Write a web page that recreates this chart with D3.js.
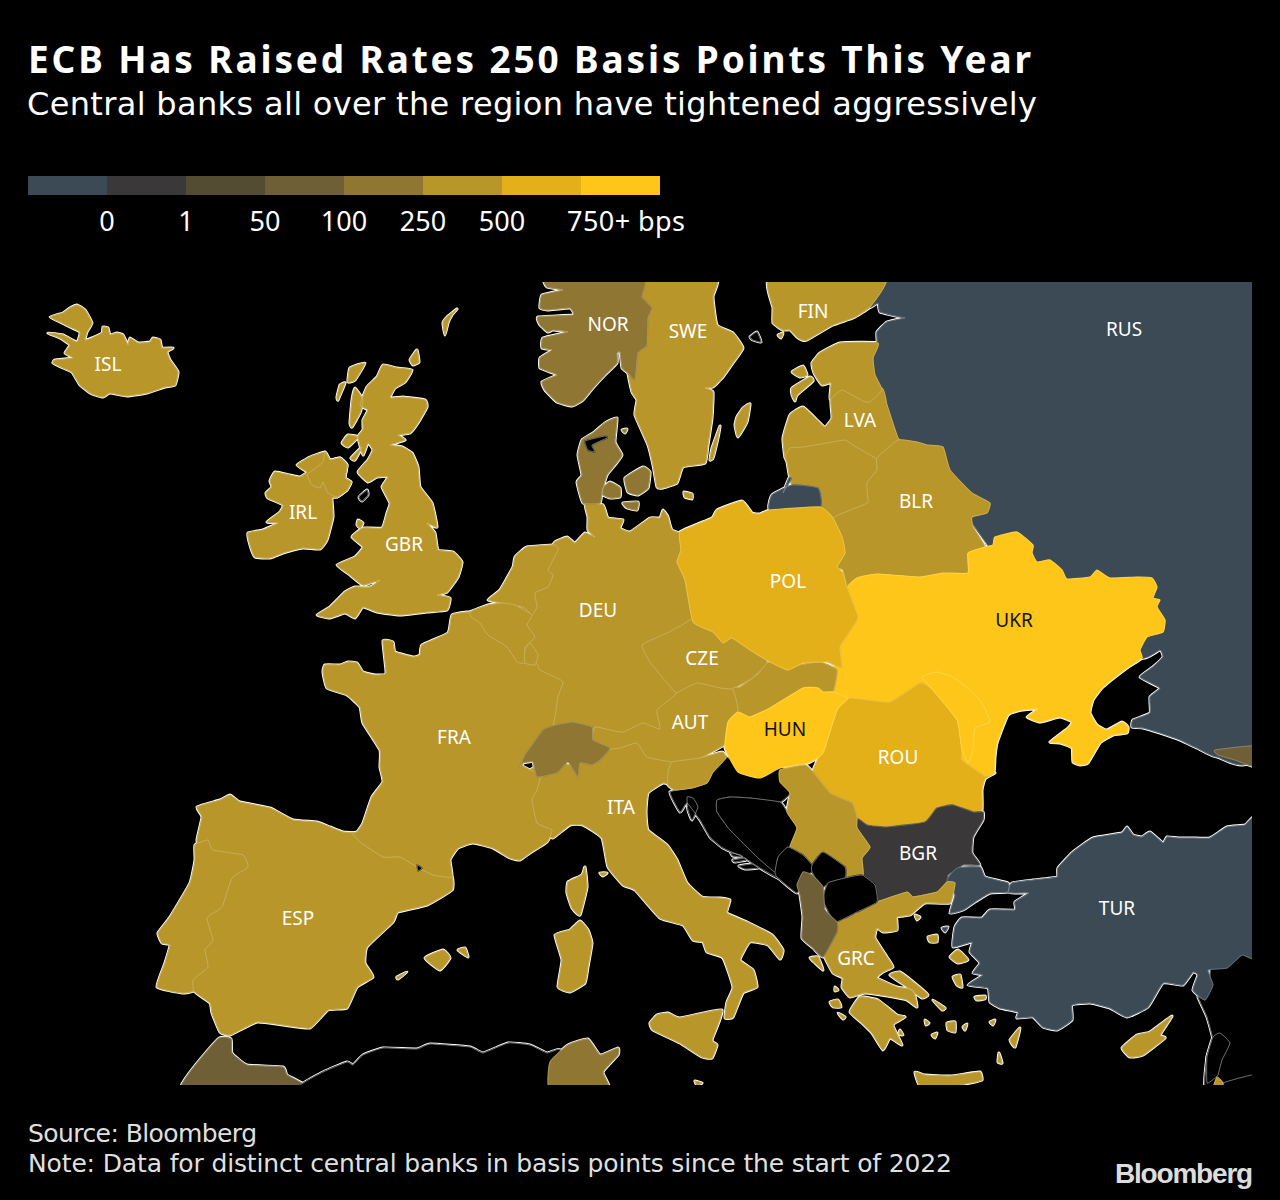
<!DOCTYPE html>
<html>
<head>
<meta charset="utf-8">
<style>
  html, body { margin: 0; background: #000; }
  text { font-family: "Noto Sans", sans-serif; fill: #fff; }
</style>
<script src="https://cdn.jsdelivr.net/npm/d3@7"></script>
</head>
<body>
<svg id="chart" width="1280" height="1200"></svg>
<script>
/* Legend */
const legendColors = ["#3b4a54", "#3a3838", "#544b33", "#6f5f36", "#8f7733", "#b8962a", "#e3b01a", "#ffc61a"];
const legendThresholds = [0, 1, 50, 100, 250, 500, 750];
const legendLabels = ["0", "1", "50", "100", "250", "500", "750+ bps"];

/* Rate change per central bank, in basis points. null = no data, drawn black. Order = paint order */
const countryCodes = ["RUS","GEO","MAR","DZA","TUN","SYR","LBN","EGY","JOR","ISL","IRL","NIR","GBR","IMN","SWE","NOR","FIN","ALA","LVA","EST","LTU","KGD","BLR","ITA","DEU","CZE","UKR","ROU","SVK","HRV","AUT","HUN","MDA","POL","ESP","PRT","FRA","AND","NLD","BEL","LUX","CHE","DNK","LIM","SVN","BGR","TUR","GRC","BIH","SRB","MNE","KOS","MKD","ALB","CYP"];
const bpsChange = [-100,75,50,null,100,null,null,null,250,450,250,300,300,null,250,225,250,null,250,250,250,-100,300,250,250,300,1500,525,250,null,250,1060,1650,625,250,250,250,null,250,250,250,175,215,null,250,0,-500,250,null,300,null,null,null,75,250];

/* Outlines, in map units */
const outlineRUS = [[[883,278],[1256,278],[1256,748],[1217,757],[1197,748],[1180,740],[1160,733],[1143,728],[1132,727],[1133,720],[1150,713],[1150,697],[1160,688],[1140,677],[1153,667],[1163,657],[1160,650],[1142,658],[1100,620],[1000,560],[940,480],[870,460],[870,350],[877,342],[877,332],[887,322],[905,318],[900,317],[880,312],[878,303],[870,307]]];
const outlineGEO = [[[1215,750],[1256,746],[1256,767],[1235,760],[1218,755]]];
const outlineMAR = [[[181,1090],[218,1039],[231,1039],[232,1053],[247,1065],[283,1067],[287,1075],[309,1090]]];
const outlineDZA = [[[305,1090],[305,1082],[323,1072],[347,1062],[353,1065],[363,1055],[383,1048],[417,1049],[430,1044],[470,1047],[483,1053],[508,1043],[530,1045],[547,1053],[560,1050],[555,1090]]];
const outlineTUN = [[[550,1090],[550,1062],[568,1045],[588,1039],[600,1055],[618,1048],[618,1055],[603,1072],[609,1090]]];
const outlineSYR = [[[1198,997],[1205,1000],[1210,990],[1212,965],[1256,950],[1258,1092],[1206,1092],[1207,1057],[1213,1040],[1207,1017]]];
const outlineLBN = [[[1213,1037],[1220,1033],[1230,1043],[1222,1060],[1218,1075],[1215,1078],[1207,1083],[1207,1057]]];
const outlineEGY = [[[1258,1074],[1223,1083],[1223,1094],[1258,1094]]];
const outlineJOR = [[[1212,1092],[1217,1077],[1223,1083],[1222,1092]]];
const outlineISL = [[[50,317],[63,313],[70,308],[77,305],[85,310],[92,323],[87,332],[85,340],[92,338],[102,333],[103,327],[108,328],[110,335],[117,333],[123,335],[128,345],[130,338],[138,343],[150,342],[153,338],[160,340],[162,348],[173,348],[167,352],[170,360],[178,372],[175,385],[165,387],[147,393],[127,396],[110,393],[103,397],[92,394],[80,385],[72,372],[63,368],[53,363],[55,360],[73,358],[65,353],[70,345],[60,338],[48,333],[63,335],[77,342],[80,332],[70,327],[62,323]]];
const outlineIRL = [[[325,452],[330,460],[340,458],[347,465],[345,478],[351,482],[347,490],[337,497],[332,498],[333,517],[327,540],[320,549],[303,548],[283,553],[270,558],[255,557],[250,545],[248,533],[263,530],[278,523],[267,522],[280,512],[283,505],[268,498],[266,493],[272,487],[270,481],[275,472],[290,475],[300,477],[307,472],[297,465],[310,457]]];
const outlineNIR = [[[325,452],[330,460],[340,458],[347,465],[345,478],[351,482],[347,490],[337,497],[328,493],[323,482],[320,488],[312,485],[307,475],[313,470],[323,462]]];
const outlineGBR = [
  [[383,365],[397,368],[412,370],[405,382],[395,388],[390,398],[403,397],[425,400],[427,407],[418,423],[410,433],[398,435],[405,440],[390,445],[402,447],[412,453],[418,467],[420,487],[432,503],[437,527],[427,523],[435,533],[438,550],[453,552],[462,562],[458,577],[447,592],[437,595],[450,598],[447,610],[427,612],[400,615],[377,612],[363,607],[355,618],[345,613],[330,618],[317,615],[330,607],[345,592],[355,587],[370,587],[380,580],[363,585],[350,575],[337,565],[355,557],[363,547],[352,537],[363,528],[382,528],[387,513],[390,503],[382,487],[388,477],[377,477],[368,482],[358,472],[368,460],[373,450],[368,443],[363,455],[358,437],[363,430],[363,420],[368,410],[360,405],[367,387],[377,377]],
  [[457,309],[452,315],[448,323],[445,335],[443,323],[447,317]],
  [[417,350],[419,362],[413,365],[410,360],[413,355]],
  [[365,363],[355,380],[348,382],[350,368]],
  [[345,383],[338,400],[337,397],[340,385]],
  [[355,388],[363,400],[360,413],[352,427],[350,423],[352,400]],
  [[358,437],[348,447],[342,443],[348,435]],
  [[362,447],[355,460],[351,458]],
  [[358,520],[363,523],[360,528],[357,525]]
];
const outlineIMN = [[[367,490],[368,495],[362,501],[359,497]]];
const outlineSWE = [
  [[635,278],[716,278],[713,297],[717,325],[733,333],[743,348],[733,363],[723,377],[713,387],[705,388],[713,392],[712,418],[708,445],[705,463],[683,467],[677,483],[663,488],[657,487],[653,465],[648,445],[635,415],[637,400],[632,392],[628,373],[632,360],[635,300]],
  [[750,404],[743,408],[737,417],[735,425],[738,437],[747,422]],
  [[720,426],[712,448],[710,460],[713,458],[718,438]],
  [[684,492],[692,494],[692,499],[685,497]]
];
const outlineNOR = [[[547,278],[643,278],[642,297],[652,308],[648,318],[647,345],[638,353],[635,380],[628,373],[622,368],[620,352],[617,353],[617,363],[605,375],[593,388],[583,400],[572,406],[557,402],[545,390],[542,382],[557,375],[550,372],[540,368],[540,358],[552,350],[542,348],[543,338],[568,332],[553,330],[548,332],[540,325],[538,317],[573,315],[570,308],[548,310],[540,308],[542,295],[563,290],[547,287]]];
const outlineFIN = [
  [[770,278],[885,278],[870,307],[853,318],[833,325],[807,340],[802,340],[797,337],[790,330],[783,330],[773,323],[773,308]],
  [[778,335],[783,333],[781,338]]
];
const outlineALA = [[[750,337],[757,332],[761,342],[753,340]]];
const outlineLVA = [[[845,385],[882,388],[887,405],[898,438],[905,445],[880,465],[853,450],[845,445],[827,448],[803,452],[790,452],[785,457],[783,438],[790,415],[803,407],[817,420],[825,427],[832,418],[831,399]]];
const outlineEST = [
  [[812,363],[820,353],[840,343],[878,343],[873,358],[875,375],[882,390],[870,402],[863,401],[842,390],[830,399],[831,383],[822,385],[815,375],[813,370]],
  [[792,372],[803,366],[807,375],[800,377]],
  [[792,388],[810,377],[813,381],[797,395],[795,401],[792,395]]
];
const outlineLTU = [[[785,457],[790,448],[803,447],[827,443],[845,440],[853,445],[875,458],[885,465],[877,490],[872,510],[835,522],[820,507],[818,488],[792,485],[787,462]]];
const outlineKGD = [
  [[772,495],[792,485],[818,488],[820,507],[770,510]],
  [[789,478],[791,479],[783,493]]
];
const outlineBLR = [[[877,458],[898,440],[917,442],[927,445],[943,447],[950,470],[972,493],[990,503],[987,513],[972,517],[973,527],[985,547],[968,553],[968,578],[943,578],[920,582],[877,578],[857,583],[847,587],[843,570],[837,567],[845,553],[842,537],[833,518],[863,505],[868,502],[867,483],[877,470]]];
const outlineITA = [
  [[553,838],[570,825],[583,825],[602,838],[608,867],[623,885],[635,890],[660,918],[683,925],[693,940],[703,942],[707,952],[723,958],[733,987],[727,1002],[725,1018],[733,1017],[743,993],[757,987],[753,970],[740,960],[750,942],[768,945],[780,959],[783,950],[772,935],[747,922],[727,913],[730,900],[720,898],[702,897],[687,883],[677,860],[667,845],[648,830],[646,812],[648,793],[663,783],[673,785],[668,773],[677,755],[660,750],[640,740],[605,740],[590,750],[570,765],[555,760],[530,770],[525,800],[530,825],[548,835]],
  [[580,921],[588,930],[592,943],[588,967],[585,983],[570,992],[558,987],[562,960],[555,935],[570,930]],
  [[657,1015],[668,1013],[680,1018],[722,1010],[712,1040],[717,1045],[712,1058],[702,1057],[680,1043],[653,1030],[650,1023]],
  [[600,873],[607,873],[603,876]],
  [[695,1081],[702,1083],[697,1085]]
];
const outlineDEU = [[[585,503],[603,505],[608,518],[623,520],[620,528],[630,532],[650,518],[660,518],[663,510],[668,517],[672,530],[690,538],[690,563],[695,583],[698,615],[698,625],[672,640],[665,650],[672,668],[688,690],[672,712],[668,730],[645,730],[623,737],[610,735],[595,730],[573,730],[550,722],[550,690],[545,676],[530,660],[520,640],[520,610],[530,590],[540,570],[550,550],[555,542],[567,537],[575,543],[585,533],[595,537],[588,530],[588,517]]];
const outlineCZE = [[[642,645],[667,633],[682,625],[695,618],[730,630],[760,650],[767,663],[752,678],[735,688],[727,695],[708,695],[695,695],[685,695],[675,692],[662,677],[650,662]]];
const outlineUKR = [[[847,588],[857,578],[877,574],[920,577],[943,573],[968,573],[968,553],[985,547],[993,545],[995,537],[1017,532],[1033,545],[1032,553],[1037,562],[1050,560],[1062,570],[1067,579],[1090,577],[1097,570],[1110,578],[1137,577],[1152,578],[1157,587],[1153,598],[1160,600],[1157,607],[1165,620],[1163,632],[1147,637],[1140,650],[1142,658],[1127,668],[1103,687],[1093,700],[1090,713],[1097,725],[1107,730],[1122,722],[1128,727],[1127,733],[1113,735],[1100,743],[1088,763],[1080,765],[1073,762],[1072,748],[1060,743],[1050,742],[1068,728],[1072,722],[1060,717],[1040,722],[1027,717],[1038,709],[1022,710],[1008,715],[997,743],[995,757],[994,772],[985,776],[962,760],[957,730],[933,700],[920,690],[890,712],[850,705],[840,700],[828,690],[832,670],[835,665],[835,647],[845,628],[850,617]]];
const outlineROU = [[[837,710],[850,698],[890,702],[920,683],[933,690],[957,720],[962,750],[962,760],[985,776],[995,773],[985,779],[982,790],[982,810],[973,812],[953,805],[937,808],[925,822],[887,827],[867,825],[857,817],[852,803],[830,793],[813,772],[820,755],[827,740]]];
const outlineSVK = [[[733,688],[740,687],[757,675],[767,663],[777,662],[787,670],[800,665],[820,662],[837,670],[833,692],[818,700],[780,715],[745,720],[737,710]]];
const outlineHRV = [
  [[670,792],[692,788],[707,783],[713,772],[722,755],[750,770],[777,765],[785,770],[785,782],[790,793],[780,802],[750,798],[730,797],[717,800],[717,812],[730,830],[757,857],[775,872],[778,878],[760,868],[743,857],[723,848],[710,837],[700,820],[687,803],[680,812]],
  [[687,797],[693,798],[698,807],[692,820],[688,810]],
  [[731,853],[741,855],[742,857],[733,856]],
  [[733,860],[745,858],[746,860],[735,862]],
  [[739,866],[752,864],[758,868],[745,869]]
];
const outlineAUT = [[[592,740],[595,727],[610,730],[623,732],[643,723],[660,729],[657,710],[673,697],[677,693],[697,683],[720,688],[733,690],[738,710],[727,730],[727,743],[700,758],[673,762],[647,757],[637,743],[620,748],[603,750],[597,748]]];
const outlineHUN = [[[738,712],[750,717],[770,708],[803,688],[818,688],[823,692],[833,692],[848,698],[837,710],[823,753],[808,763],[780,768],[760,778],[738,772],[725,748],[728,722]]];
const outlineMDA = [[[922,677],[937,672],[953,677],[970,690],[982,703],[990,722],[975,728],[973,750],[968,763],[962,750],[957,720],[933,690]]];
const outlinePOL = [[[680,532],[712,518],[717,510],[742,501],[752,513],[760,514],[770,510],[820,507],[833,518],[842,537],[845,553],[837,567],[843,573],[847,587],[858,617],[852,628],[840,647],[842,668],[827,662],[803,663],[788,670],[770,662],[750,650],[732,638],[723,643],[713,632],[693,622],[685,580],[677,562],[681,550]]];
const outlineESP = [
  [[197,807],[220,800],[230,795],[240,802],[270,808],[293,820],[317,822],[330,827],[343,832],[352,833],[360,842],[383,857],[400,857],[417,867],[433,875],[452,877],[452,890],[427,905],[398,912],[393,922],[367,947],[365,963],[373,977],[357,987],[347,1008],[328,1010],[310,1028],[283,1025],[257,1022],[230,1035],[220,1032],[212,1013],[210,1003],[193,990],[185,960],[195,900],[200,860],[197,840],[202,817]],
  [[425,958],[443,950],[450,958],[440,970]],
  [[458,950],[465,948],[468,957]],
  [[397,977],[407,972],[398,979]]
];
const outlinePRT = [[[195,845],[208,840],[213,850],[243,855],[248,867],[232,878],[222,907],[207,918],[213,940],[205,950],[208,967],[193,980],[193,991],[182,993],[157,987],[165,963],[170,945],[162,943],[158,933],[170,917],[190,883],[195,860]]];
const outlineFRA = [
  [[468,612],[452,615],[448,633],[422,645],[420,655],[413,657],[395,652],[393,642],[383,641],[386,673],[375,675],[363,672],[357,663],[348,662],[340,665],[325,665],[323,672],[327,688],[347,695],[360,707],[363,723],[380,750],[380,767],[383,782],[372,797],[363,823],[357,832],[352,833],[360,842],[383,857],[400,857],[417,867],[433,875],[452,877],[450,860],[458,848],[473,843],[493,848],[510,858],[520,860],[530,853],[547,842],[552,830],[537,823],[532,800],[537,790],[540,775],[522,765],[533,743],[553,725],[558,697],[563,682],[555,677],[540,670],[535,660],[515,640],[490,620],[475,612]],
  [[585,867],[587,887],[580,915],[572,908],[567,893],[568,882],[582,875]]
];
const outlineAND = [[[417,865],[422,868],[418,871]]];
const outlineNLD = [[[515,557],[527,547],[555,545],[558,550],[548,570],[553,575],[548,587],[535,593],[537,607],[532,615],[525,608],[515,605],[502,603],[488,600],[500,590],[513,567]]];
const outlineBEL = [[[470,612],[488,605],[502,603],[515,605],[532,615],[527,625],[535,637],[525,647],[525,663],[517,662],[507,647],[488,635],[480,623],[472,618]]];
const outlineLUX = [[[530,643],[538,655],[535,665],[525,663],[525,650]]];
const outlineCHE = [[[520,767],[525,755],[543,730],[555,725],[573,722],[592,727],[593,740],[610,748],[600,760],[592,765],[580,763],[578,777],[568,762],[557,773],[537,777],[533,762],[523,763]]];
const outlineDNK = [
  [[617,418],[605,423],[593,433],[582,440],[578,455],[582,475],[577,482],[583,503],[600,503],[602,492],[607,475],[615,465],[622,455],[615,442]],
  [[603,488],[610,482],[620,488],[620,497],[610,498],[603,495]],
  [[625,478],[643,467],[650,472],[648,488],[638,495],[628,492]],
  [[623,503],[638,502],[637,510],[627,508]],
  [[622,430],[627,429],[625,433]]
];
const outlineLIM = [[[585,441],[605,436],[607,438],[592,445],[595,452],[588,450]]];
const outlineSVN = [[[668,773],[672,762],[700,758],[722,752],[726,758],[713,772],[707,783],[692,788],[675,790],[668,785]]];
const outlineBGR = [[[857,818],[867,825],[887,827],[925,822],[937,808],[953,805],[973,812],[983,812],[983,820],[973,837],[972,853],[980,865],[963,865],[948,875],[947,882],[937,892],[913,897],[907,892],[877,902],[875,885],[862,875],[862,858],[870,847],[857,828]]];
const outlineTUR = [
  [[1258,818],[1245,825],[1227,827],[1210,838],[1192,838],[1178,838],[1167,837],[1163,843],[1150,832],[1142,837],[1133,835],[1127,827],[1122,833],[1093,838],[1073,852],[1058,868],[1057,877],[1033,880],[1012,883],[1008,892],[1015,893],[1029,893],[1015,902],[1015,910],[990,910],[982,918],[962,918],[955,927],[953,947],[972,942],[970,952],[980,963],[973,973],[983,975],[968,985],[988,988],[990,1002],[1000,1008],[1018,1012],[1017,1018],[1033,1017],[1043,1027],[1057,1030],[1072,1020],[1072,1005],[1090,1003],[1110,1008],[1127,1017],[1148,1007],[1163,983],[1183,985],[1193,972],[1198,975],[1193,990],[1205,1000],[1213,985],[1208,970],[1227,968],[1242,955],[1258,955]],
  [[947,880],[957,868],[980,867],[985,877],[1008,883],[1008,892],[990,893],[975,902],[963,910],[950,913],[955,895]],
  [[942,928],[948,927],[945,932]]
];
const outlineGRC = [
  [[955,883],[950,903],[925,903],[910,915],[897,917],[897,930],[883,932],[877,928],[875,938],[887,957],[893,967],[883,972],[877,978],[897,987],[913,990],[917,1007],[907,1000],[893,997],[865,993],[850,997],[842,987],[843,978],[833,973],[825,958],[823,948],[837,932],[837,922],[857,912],[877,902],[907,892],[913,897],[937,892],[947,882]],
  [[810,958],[818,957],[823,970],[815,963]],
  [[850,1012],[860,997],[878,1000],[897,1015],[905,1017],[893,1025],[902,1045],[890,1038],[883,1050],[872,1033],[862,1023]],
  [[890,975],[900,972],[917,985],[928,995],[922,998],[907,987]],
  [[915,1072],[925,1075],[950,1076],[965,1074],[980,1072],[982,1080],[970,1083],[945,1088],[920,1086]],
  [[950,957],[958,950],[968,960],[958,963]],
  [[953,977],[960,975],[962,987],[957,985]],
  [[915,915],[920,917],[917,920]],
  [[928,937],[937,935],[937,942],[930,942]],
  [[975,997],[985,996],[985,999],[977,1000]],
  [[835,987],[838,990],[835,991]],
  [[830,1002],[838,1000],[841,1007],[833,1007]],
  [[838,1013],[845,1017],[843,1019]],
  [[947,1023],[955,1022],[955,1032],[948,1030]],
  [[963,1027],[967,1024],[965,1030]],
  [[932,1035],[937,1033],[935,1038]],
  [[933,1000],[945,1008],[942,1010]],
  [[1020,1028],[1015,1047],[1010,1040]],
  [[999,1053],[1002,1063],[998,1062]],
  [[990,1022],[995,1020],[993,1025]],
  [[900,1030],[903,1035],[899,1034]],
  [[925,1020],[929,1023],[926,1025]]
];
const outlineBIH = [[[717,800],[730,797],[750,798],[780,802],[787,812],[797,828],[790,847],[778,857],[775,872],[757,857],[730,830],[717,812]]];
const outlineSRB = [[[780,770],[805,765],[813,772],[830,793],[852,803],[857,817],[857,828],[870,847],[862,858],[863,875],[845,878],[845,867],[823,852],[812,865],[803,855],[790,847],[797,828],[787,812],[790,793],[780,782]]];
const outlineMNE = [[[775,872],[778,857],[788,847],[803,855],[812,865],[812,872],[803,877],[797,893],[777,877]]];
const outlineKOS = [[[812,865],[823,852],[845,867],[845,878],[828,883],[822,888],[812,872]]];
const outlineMKD = [[[823,900],[828,883],[845,878],[862,875],[875,885],[877,902],[857,912],[835,922]]];
const outlineALB = [[[797,885],[803,872],[812,875],[823,887],[825,910],[837,922],[837,932],[823,957],[813,948],[802,938],[803,917],[800,895]]];
const outlineCYP = [[[1172,1016],[1160,1035],[1165,1038],[1143,1055],[1130,1057],[1122,1048],[1137,1035],[1150,1032]]];

const countryOutlines = [outlineRUS,outlineGEO,outlineMAR,outlineDZA,outlineTUN,outlineSYR,outlineLBN,outlineEGY,outlineJOR,outlineISL,outlineIRL,outlineNIR,outlineGBR,outlineIMN,outlineSWE,outlineNOR,outlineFIN,outlineALA,outlineLVA,outlineEST,outlineLTU,outlineKGD,outlineBLR,outlineITA,outlineDEU,outlineCZE,outlineUKR,outlineROU,outlineSVK,outlineHRV,outlineAUT,outlineHUN,outlineMDA,outlinePOL,outlineESP,outlinePRT,outlineFRA,outlineAND,outlineNLD,outlineBEL,outlineLUX,outlineCHE,outlineDNK,outlineLIM,outlineSVN,outlineBGR,outlineTUR,outlineGRC,outlineBIH,outlineSRB,outlineMNE,outlineKOS,outlineMKD,outlineALB,outlineCYP];

/* Country labels */
const labelCodes = ["ISL","IRL","GBR","NOR","SWE","FIN","RUS","LVA","BLR","POL","UKR","DEU","CZE","AUT","HUN","ROU","FRA","ITA","ESP","BGR","GRC","TUR"];
const labelX = [108,303,404,608,688,813,1124,860,916,788,1014,598,702,690,785,898,454,621,298,918,856,1117];
const labelY = [364,512,544,324,331,311,329,420,501,581,620,610,658,722,729,757,737,807,918,853,958,908];

const svg = d3.select("#chart");
svg.append("rect").attr("width", 1280).attr("height", 1200).attr("fill", "#000");

/* Header */
svg.append("text").attr("x", 28).attr("y", 73)
  .attr("font-size", 37).attr("font-weight", 700)
  .attr("textLength", 1003).attr("lengthAdjust", "spacing")
  .text("ECB Has Raised Rates 250 Basis Points This Year");
svg.append("text").attr("x", 27).attr("y", 115)
  .attr("font-size", 32)
  .style("font-family", "'DejaVu Sans', sans-serif")
  .attr("textLength", 1010).attr("lengthAdjust", "spacing")
  .text("Central banks all over the region have tightened aggressively");

/* Legend */
const legendX = d3.scaleBand().domain(d3.range(legendColors.length)).range([28, 660]);
const legend = svg.append("g");
legend.selectAll("rect").data(legendColors).enter().append("rect")
  .attr("x", (d, i) => legendX(i))
  .attr("y", 176)
  .attr("width", legendX.bandwidth())
  .attr("height", 19)
  .attr("fill", d => d);
legend.selectAll("text").data(legendLabels).enter().append("text")
  .attr("x", (d, i) => i == 6 ? 567 : legendX(i) + legendX.bandwidth())
  .attr("y", 231)
  .attr("text-anchor", (d, i) => i == 6 ? "start" : "middle")
  .attr("font-size", 27)
  .attr("textLength", (d, i) => i == 6 ? 118 : null)
  .text(d => d);

/* Map */
const color = d3.scaleThreshold().domain(legendThresholds).range(legendColors);
const ringPath = d3.line().curve(d3.curveCardinalClosed.tension(0.6));
const countryPath = d => d.rings.map(ringPath).join("");
const countries = countryCodes.map((code, i) => ({ code: code, bps: bpsChange[i], rings: countryOutlines[i] }));

svg.append("clipPath").attr("id", "map-clip")
  .append("rect").attr("x", 0).attr("y", 282).attr("width", 1252).attr("height", 803);
const map = svg.append("g").attr("clip-path", "url(#map-clip)");

// White halo underneath: only survives where a country has sea next to it
map.append("g").selectAll("path").data(countries).enter().append("path")
  .attr("d", countryPath)
  .attr("fill", "none")
  .attr("stroke", "#fff")
  .attr("stroke-width", 3)
  .attr("stroke-linejoin", "round");

const fillOf = d => d.bps === null ? "#000" : color(d.bps);

// Painted in order so the later country decides a shared border
const countryGroups = map.append("g").selectAll("g").data(countries).enter().append("g");
countryGroups.append("path")
  .attr("d", countryPath)
  .attr("fill", fillOf)
  .attr("stroke", fillOf)
  .attr("stroke-width", 1.2)
  .attr("stroke-linejoin", "round");
countryGroups.append("path")
  .attr("d", countryPath)
  .attr("fill", "none")
  .attr("stroke", "#fff")
  .attr("stroke-opacity", d => d.bps === null ? 0.55 : 0.28)
  .attr("stroke-width", 0.8);

/* Labels */
const bpsByCode = new Map(countryCodes.map((c, i) => [c, bpsChange[i]]));
svg.append("g").selectAll("text").data(labelCodes).enter().append("text")
  .attr("x", (d, i) => labelX[i])
  .attr("y", (d, i) => labelY[i] + 7)
  .attr("text-anchor", "middle")
  .attr("font-size", 19)
  .style("fill", d => bpsByCode.get(d) >= 750 ? "#111" : "#fff")
  .text(d => d);

/* Footer */
svg.append("text").attr("x", 28).attr("y", 1142)
  .attr("font-size", 25).attr("fill-opacity", 0.9)
  .style("font-family", "'DejaVu Sans', sans-serif")
  .attr("textLength", 229)
  .text("Source: Bloomberg");
svg.append("text").attr("x", 28).attr("y", 1172)
  .attr("font-size", 25).attr("fill-opacity", 0.9)
  .style("font-family", "'DejaVu Sans', sans-serif")
  .attr("textLength", 924)
  .text("Note: Data for distinct central banks in basis points since the start of 2022");
svg.append("text").attr("x", 1252).attr("y", 1183)
  .attr("text-anchor", "end")
  .attr("font-size", 28).attr("font-weight", 700).attr("letter-spacing", -1.2)
  .style("font-family", "'Liberation Sans', sans-serif")
  .style("fill", "#ddd")
  .text("Bloomberg");
</script>
</body>
</html>
